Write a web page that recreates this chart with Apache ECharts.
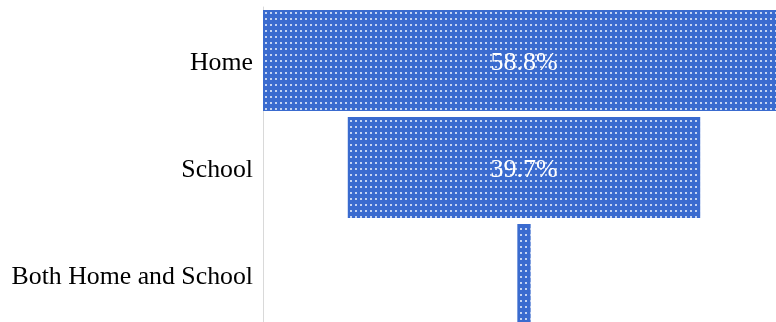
<!DOCTYPE html>
<html>
<head>
<meta charset="utf-8">
<script src="https://cdn.jsdelivr.net/npm/echarts@6/dist/echarts.min.js"></script>
<style>html,body{margin:0;padding:0;background:#fff}#c{width:776px;height:322px}</style>
</head>
<body>
<div id="c"></div>
<script>
var categories = ['Home', 'School', 'Both Home and School'];
var values = [58.8, 39.7, 1.5];
var labels = ['58.8%', '39.7%', ''];

var maxVal = Math.max.apply(null, values);
var offsets = values.map(function (v) { return (maxVal - v) / 2; });

var chart = echarts.init(document.getElementById('c'), null, {renderer: 'canvas'});
chart.setOption({
  animation: false,
  grid: {left: 263, top: 7, width: 522, height: 321, containLabel: false, outerBoundsMode: 'none'},
  xAxis: {type: 'value', min: 0, max: maxVal, show: false},
  yAxis: {
    type: 'category', data: categories, inverse: true,
    axisLine: {show: true, lineStyle: {color: '#d9d9d9', width: 1}},
    axisTick: {show: false},
    axisLabel: {
      color: '#000', fontFamily: 'Liberation Serif', fontSize: 25.8, margin: 10,
      formatter: function (v) { return '{a|' + v + '}'; },
      rich: {a: {color: '#000', fontFamily: 'Liberation Serif', fontSize: 25.8, padding: [6, 0, 0, 0]}}
    }
  },
  series: [
    {type: 'bar', stack: 's', data: offsets, itemStyle: {color: 'transparent'}, barCategoryGap: '5.6%', silent: true},
    {type: 'bar', stack: 's', data: values, barCategoryGap: '5.6%',
     itemStyle: {
       color: '#3A6BCF',
       decal: {symbol: 'rect', symbolSize: 1, dashArrayX: [[2, 3]], dashArrayY: [2, 4], color: 'rgba(255,255,255,0.7)', rotation: 0}
     },
     label: {show: true, position: 'inside', offset: [0, 3], color: '#fff', fontFamily: 'Liberation Serif', fontSize: 26,
       formatter: function (p) { return labels[p.dataIndex]; }}
    }
  ]
});
</script>
</body>
</html>
